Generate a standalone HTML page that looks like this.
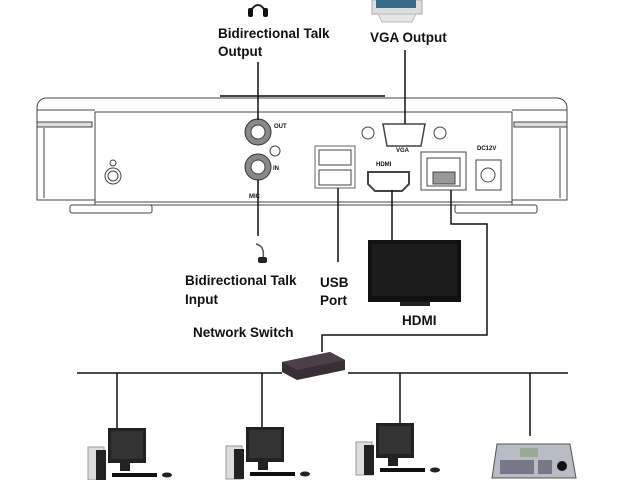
<!DOCTYPE html>
<html><head><meta charset="utf-8"><style>
html,body{margin:0;padding:0;background:#fff;width:640px;height:480px;overflow:hidden}
text{font-family:"Liberation Sans",Arial,sans-serif;fill:#111}
.l{font-size:13.5px;font-weight:bold}
</style></head><body>
<svg width="640" height="480" viewBox="0 0 640 480" xmlns="http://www.w3.org/2000/svg">
<!-- top icons -->
<g>
 <path d="M250 12 Q258 -2 266 12" fill="none" stroke="#222" stroke-width="2"/>
 <rect x="248" y="8" width="5" height="9" rx="2" fill="#111"/>
 <rect x="263" y="8" width="5" height="9" rx="2" fill="#111"/>
 <rect x="372" y="0" width="50" height="14" fill="#ddd" stroke="#aaa"/>
 <rect x="376" y="0" width="40" height="8" fill="#3a6a8a"/>
 <path d="M378 14 L416 14 L412 22 L382 22Z" fill="#e6e6e6" stroke="#bbb"/>
</g>
<text class="l" x="218" y="38">Bidirectional Talk</text>
<text class="l" x="218" y="56">Output</text>
<text class="l" x="370" y="42">VGA Output</text>
<!-- NVR body -->
<g stroke="#444" fill="#fff" stroke-width="1">
 <path d="M45 98 L558 98 Q567 100 567 108 L567 200 L512 200 L512 205 L95 205 L95 200 L37 200 L37 108 Q37 100 45 98Z"/>
 <line x1="220" y1="96" x2="385" y2="96" stroke-width="2"/>
 <rect x="95" y="112" width="417" height="90"/>
 <line x1="37" y1="110" x2="95" y2="110"/>
 <line x1="512" y1="110" x2="567" y2="110"/>
 <rect x="37" y="122" width="55" height="5" fill="#ddd"/>
 <rect x="514" y="122" width="53" height="5" fill="#ddd"/>
 <line x1="44" y1="128" x2="44" y2="198"/>
 <line x1="560" y1="128" x2="560" y2="198"/>
 <rect x="70" y="205" width="82" height="8" rx="2"/>
 <rect x="455" y="205" width="82" height="8" rx="2"/>
 <circle cx="113" cy="176" r="8"/>
 <circle cx="113" cy="176" r="5"/>
 <circle cx="113" cy="163" r="3"/>
 <circle cx="258" cy="132" r="13" fill="#888" stroke="#333"/>
 <circle cx="258" cy="132" r="7" fill="#fff"/>
 <circle cx="258" cy="167" r="13" fill="#888" stroke="#333"/>
 <circle cx="258" cy="167" r="7" fill="#fff"/>
 <circle cx="275" cy="151" r="5"/>
 <rect x="315" y="146" width="40" height="42" stroke="#666"/>
 <rect x="319" y="150" width="32" height="15"/>
 <rect x="319" y="170" width="32" height="15"/>
 <path d="M383 124 L425 124 L421 146 L387 146Z" stroke-width="1.5"/>
 <circle cx="368" cy="133" r="6"/>
 <circle cx="440" cy="133" r="6"/>
 <path d="M368 172 L409 172 L409 184 L402 191 L375 191 L368 184Z" stroke-width="2"/>
 <rect x="421" y="152" width="45" height="38"/>
 <rect x="427" y="158" width="33" height="28"/>
 <rect x="433" y="172" width="22" height="12" fill="#999"/>
 <rect x="476" y="160" width="25" height="30"/>
 <circle cx="488" cy="175" r="7"/>
</g>
<g font-size="6" font-weight="bold">
 <text x="274" y="128">OUT</text><text x="273" y="170">IN</text>
 <text x="249" y="198">MIC</text><text x="396" y="152">VGA</text>
 <text x="376" y="166">HDMI</text><text x="477" y="150">DC12V</text>
</g>
<!-- connectors -->
<g stroke="#111" stroke-width="1.5" fill="none">
 <line x1="258" y1="62" x2="258" y2="120"/>
 <line x1="405" y1="50" x2="405" y2="124"/>
 <line x1="258" y1="180" x2="258" y2="236"/>
 <line x1="338" y1="188" x2="338" y2="262"/>
 <line x1="392" y1="190" x2="392" y2="240"/>
 <polyline points="451,190 451,224 487,224 487,335 322,335 322,352"/>
 <line x1="77" y1="373" x2="282" y2="373"/>
 <line x1="348" y1="373" x2="568" y2="373"/>
 <line x1="117" y1="373" x2="117" y2="436"/>
 <line x1="262" y1="373" x2="262" y2="436"/>
 <line x1="400" y1="373" x2="400" y2="436"/>
 <line x1="530" y1="373" x2="530" y2="436"/>
</g>
<!-- mic -->
<path d="M256 244 Q265 246 263 258" fill="none" stroke="#555" stroke-width="1.5"/>
<rect x="258" y="257" width="9" height="6" rx="2" fill="#222"/>
<!-- TV -->
<rect x="368" y="240" width="93" height="62" fill="#111"/>
<rect x="372" y="244" width="85" height="52" fill="#1c1c1c"/>
<rect x="400" y="302" width="30" height="4" fill="#222"/>
<text class="l" x="185" y="285">Bidirectional Talk</text>
<text class="l" x="185" y="304">Input</text>
<text class="l" x="320" y="287">USB</text>
<text class="l" x="320" y="305">Port</text>
<text class="l" x="402" y="325">HDMI</text>
<text class="l" x="193" y="337">Network Switch</text>
<!-- switch -->
<path d="M282 362 L330 352 L345 360 L345 370 L297 380 L282 372Z" fill="#3a2e35"/>
<path d="M282 362 L330 352 L345 360 L297 370Z" fill="#4d3f47"/>
<!-- PCs -->
<g id="pc">
 <rect x="88" y="447" width="16" height="33" fill="#ddd" stroke="#999"/>
 <rect x="96" y="450" width="10" height="30" fill="#222"/>
 <rect x="108" y="428" width="38" height="35" fill="#222"/>
 <rect x="111" y="431" width="32" height="28" fill="#333"/>
 <rect x="120" y="463" width="10" height="8" fill="#222"/>
 <rect x="112" y="473" width="45" height="4" fill="#111"/>
 <ellipse cx="167" cy="475" rx="5" ry="2.5" fill="#222"/>
</g>
<use href="#pc" x="138" y="-1"/>
<use href="#pc" x="268" y="-5"/>
<!-- keyboard controller -->
<path d="M497 444 L570 444 L576 478 L492 478Z" fill="#b8bcc4" stroke="#555"/>
<rect x="520" y="448" width="18" height="9" fill="#9a9"/>
<circle cx="562" cy="466" r="5" fill="#111"/>
<g fill="#556">
 <rect x="500" y="460" width="34" height="14" fill="#778"/>
 <rect x="538" y="460" width="14" height="14" fill="#778"/>
</g>
</svg>
</body></html>
